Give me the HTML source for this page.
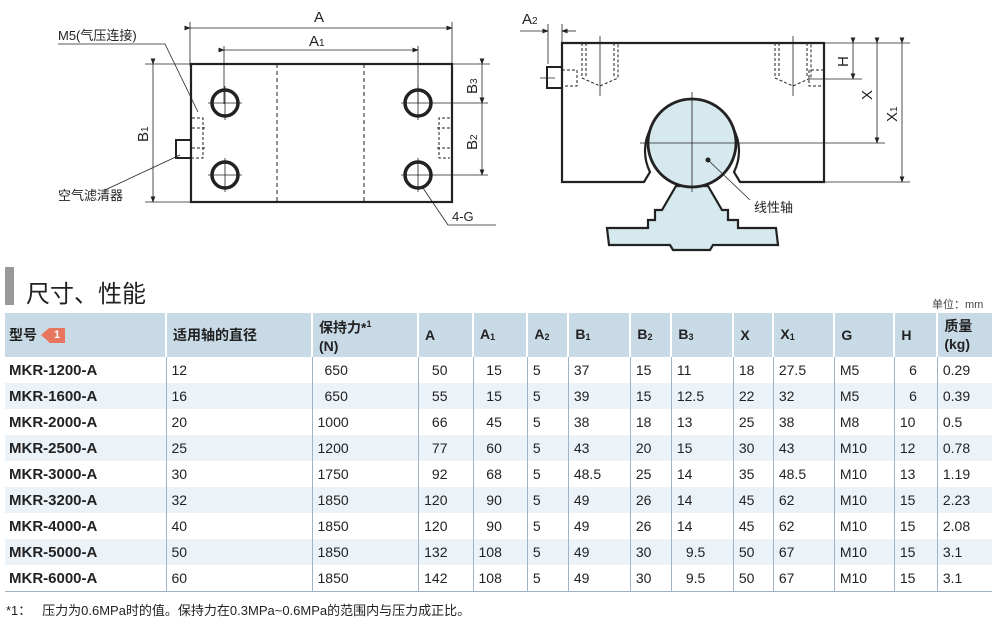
<!DOCTYPE html>
<html><head><meta charset="utf-8"><style>
body{margin:0;width:1000px;height:629px;background:#fff;position:relative;overflow:hidden;font-family:"Liberation Sans","Noto Sans CJK SC",sans-serif;color:#222}
svg{position:absolute;left:0;top:0}
.t{position:absolute;font-size:14px}
table{position:absolute;left:5px;top:313px;border-collapse:collapse;font-size:14px;width:987px}
th{background:#c8dae6;text-align:left;font-weight:bold;padding:0 0 0 6px;height:44px;border-left:2px solid #fff;line-height:18px;vertical-align:middle;white-space:nowrap}
th:first-child{border-left:none;padding-left:4px}
td{height:26px;padding:0 0 0 5px;border-left:1px solid #9fb3c4;white-space:nowrap}
td:first-child{border-left:none;font-weight:bold;padding-left:4px;font-size:15px}
tr:nth-child(even) td{background:#ebf2f8}
tbody tr:last-child td{border-bottom:1px solid #9fb3c4}
.r{text-align:right;padding-right:25px}
.h{text-align:right;padding-right:20px}
sub{font-size:9px;vertical-align:-1px}
.bd{display:inline-block;vertical-align:-3px;margin-left:4px;width:26px;height:15px;position:relative}
.bd i{position:absolute;left:0;top:0;width:0;height:0;border-top:7.5px solid transparent;border-bottom:7.5px solid transparent;border-right:8px solid #e8765e}
.bd b{position:absolute;left:8px;top:0;width:16px;height:15px;background:#e8765e;color:#fff;font-size:11px;line-height:15px;text-align:center}
</style></head><body>
<svg width="1000" height="629" viewBox="0 0 1000 629" font-family="Liberation Sans,Noto Sans CJK SC,sans-serif">
<defs><marker id="a" markerWidth="8" markerHeight="6" refX="7" refY="3" orient="auto"><path d="M0,0L8,3L0,6z" fill="#222"/></marker></defs>
<g stroke="#222" fill="none">
<rect x="191" y="64" width="261" height="138" stroke-width="2.2"/>
<line x1="277" y1="64" x2="277" y2="202" stroke-dasharray="4,3"/>
<line x1="364" y1="64" x2="364" y2="202" stroke-dasharray="4,3"/>
<g stroke-width="3.5"><circle cx="225" cy="103" r="13"/><circle cx="225" cy="175" r="13"/><circle cx="418" cy="103" r="13"/><circle cx="418" cy="175" r="13"/></g>
<g stroke-width="0.8"><path d="M208 103h34M225 86v34M208 175h34M225 158v34M401 103h34M418 86v34M401 175h34M418 158v34M418 103h70M418 175h70"/>
<path d="M190 22v44M452 22v44M224 46v58M418 46v58M145 64h46M145 202h46M452 64h38"/>
<line x1="190" y1="28" x2="452" y2="28" marker-start="url(#a)" marker-end="url(#a)"/>
<line x1="224" y1="50" x2="418" y2="50" marker-start="url(#a)" marker-end="url(#a)"/>
<line x1="153" y1="64" x2="153" y2="202" marker-start="url(#a)" marker-end="url(#a)"/>
<line x1="482" y1="64" x2="482" y2="103" marker-start="url(#a)" marker-end="url(#a)"/>
<line x1="482" y1="103" x2="482" y2="175" marker-start="url(#a)" marker-end="url(#a)"/>
<path d="M58 44h107l33 68M105 190l75-35M496 225h-48l-25-37"/></g>
<rect x="176" y="140" width="15" height="18" stroke-width="2"/>
<g stroke-dasharray="3,2" stroke-width="1"><path d="M192 118h11v40h-11M192 128h14M192 148h14M450 118h-11v40h11M450 128h-14M450 148h-14"/></g>
<path d="M562 43H824V182H740L734 172A47 47 0 1 0 650 172L644 182H562Z" stroke-width="2.2"/>
<path d="M676 186H708L722 210H728V220H738V228H776L778 245H713L710 250H673L670 245H609L607 228H648V220H655V210H662Z" fill="#d5e9ef" stroke-width="2.2"/>
<circle cx="692" cy="143" r="44" fill="#d5e9ef" stroke-width="2.8"/>
<rect x="547" y="67" width="15" height="21" stroke-width="2"/>
<g stroke-dasharray="3,2"><path d="M582 43v35l18 8 18-8V43M586 43v35M614 43v35M775 43v35l18 8 18-8V43M779 43v35M807 43v35M562 70h15v16h-15M824 70h-15v16h15"/></g>
<g stroke-width="0.8"><path d="M600 36v60M793 36v60M692 92v100M640 143h60M540 78h15M548 24v40M562 24v19M824 43h86M808 79h54M700 143h185M824 182h86M708 160l42 40"/>
<line x1="520" y1="31" x2="548" y2="31" marker-end="url(#a)"/><line x1="576" y1="31" x2="562" y2="31" marker-end="url(#a)"/>
<line x1="853" y1="43" x2="853" y2="79" marker-start="url(#a)" marker-end="url(#a)"/>
<line x1="877" y1="43" x2="877" y2="143" marker-start="url(#a)" marker-end="url(#a)"/>
<line x1="902" y1="43" x2="902" y2="182" marker-start="url(#a)" marker-end="url(#a)"/></g>
<circle cx="708" cy="160" r="2" fill="#222"/>
</g>
<g fill="#222" font-size="15">
<text x="314" y="22">A</text><text x="309" y="46">A<tspan font-size="10">1</tspan></text>
<text x="522" y="24">A<tspan font-size="10">2</tspan></text>
<text x="58" y="40" font-size="13">M5(气压连接)</text>
<text x="58" y="200" font-size="13">空气滤清器</text>
<text x="452" y="221" font-size="13">4-G</text>
<text x="754" y="212" font-size="13">线性轴</text>
<text transform="translate(148,142) rotate(-90)">B<tspan font-size="10">1</tspan></text>
<text transform="translate(477,94) rotate(-90)">B<tspan font-size="10">3</tspan></text>
<text transform="translate(477,150) rotate(-90)">B<tspan font-size="10">2</tspan></text>
<text transform="translate(848,67) rotate(-90)">H</text>
<text transform="translate(872,100) rotate(-90)">X</text>
<text transform="translate(897,122) rotate(-90)">X<tspan font-size="10">1</tspan></text>
</g>
<rect x="5" y="267" width="9" height="38" fill="#999"/>
<text x="26" y="302" font-size="24" fill="#222">尺寸、性能</text>
<text x="932" y="308" font-size="11" fill="#444">单位：mm</text>
</svg>
<table>
<thead><tr><th style="width:156px">型号<span class="bd"><i></i><b>1</b></span></th><th style="width:138px">适用轴的直径</th><th style="width:98px">保持力*<sup style="font-size:9px">1</sup><br>(N)</th><th style="width:47px">A</th><th style="width:46px">A<sub>1</sub></th><th style="width:33px">A<sub>2</sub></th><th style="width:54px">B<sub>1</sub></th><th style="width:33px">B<sub>2</sub></th><th style="width:54px">B<sub>3</sub></th><th style="width:32px">X</th><th style="width:53px">X<sub>1</sub></th><th style="width:52px">G</th><th style="width:35px">H</th><th>质量<br>(kg)</th></tr></thead>
<tbody>
<tr><td>MKR-1200-A</td><td>12</td><td style="padding-left:12px">650</td><td class="r">50</td><td class="r">15</td><td>5</td><td>37</td><td>15</td><td>11</td><td>18</td><td>27.5</td><td>M5</td><td class="h">6</td><td>0.29</td></tr>
<tr><td>MKR-1600-A</td><td>16</td><td style="padding-left:12px">650</td><td class="r">55</td><td class="r">15</td><td>5</td><td>39</td><td>15</td><td>12.5</td><td>22</td><td>32</td><td>M5</td><td class="h">6</td><td>0.39</td></tr>
<tr><td>MKR-2000-A</td><td>20</td><td>1000</td><td class="r">66</td><td class="r">45</td><td>5</td><td>38</td><td>18</td><td>13</td><td>25</td><td>38</td><td>M8</td><td>10</td><td>0.5</td></tr>
<tr><td>MKR-2500-A</td><td>25</td><td>1200</td><td class="r">77</td><td class="r">60</td><td>5</td><td>43</td><td>20</td><td>15</td><td>30</td><td>43</td><td>M10</td><td>12</td><td>0.78</td></tr>
<tr><td>MKR-3000-A</td><td>30</td><td>1750</td><td class="r">92</td><td class="r">68</td><td>5</td><td>48.5</td><td>25</td><td>14</td><td>35</td><td>48.5</td><td>M10</td><td>13</td><td>1.19</td></tr>
<tr><td>MKR-3200-A</td><td>32</td><td>1850</td><td class="r">120</td><td class="r">90</td><td>5</td><td>49</td><td>26</td><td>14</td><td>45</td><td>62</td><td>M10</td><td>15</td><td>2.23</td></tr>
<tr><td>MKR-4000-A</td><td>40</td><td>1850</td><td class="r">120</td><td class="r">90</td><td>5</td><td>49</td><td>26</td><td>14</td><td>45</td><td>62</td><td>M10</td><td>15</td><td>2.08</td></tr>
<tr><td>MKR-5000-A</td><td>50</td><td>1850</td><td class="r">132</td><td class="r">108</td><td>5</td><td>49</td><td>30</td><td style="padding-left:14px">9.5</td><td>50</td><td>67</td><td>M10</td><td>15</td><td>3.1</td></tr>
<tr><td>MKR-6000-A</td><td>60</td><td>1850</td><td class="r">142</td><td class="r">108</td><td>5</td><td>49</td><td>30</td><td style="padding-left:14px">9.5</td><td>50</td><td>67</td><td>M10</td><td>15</td><td>3.1</td></tr>
</tbody></table>
<div class="t" style="left:6px;top:600px;font-size:13px">*1：&nbsp;&nbsp;&nbsp;压力为0.6MPa时的值。保持力在0.3MPa~0.6MPa的范围内与压力成正比。</div>
</body></html>
